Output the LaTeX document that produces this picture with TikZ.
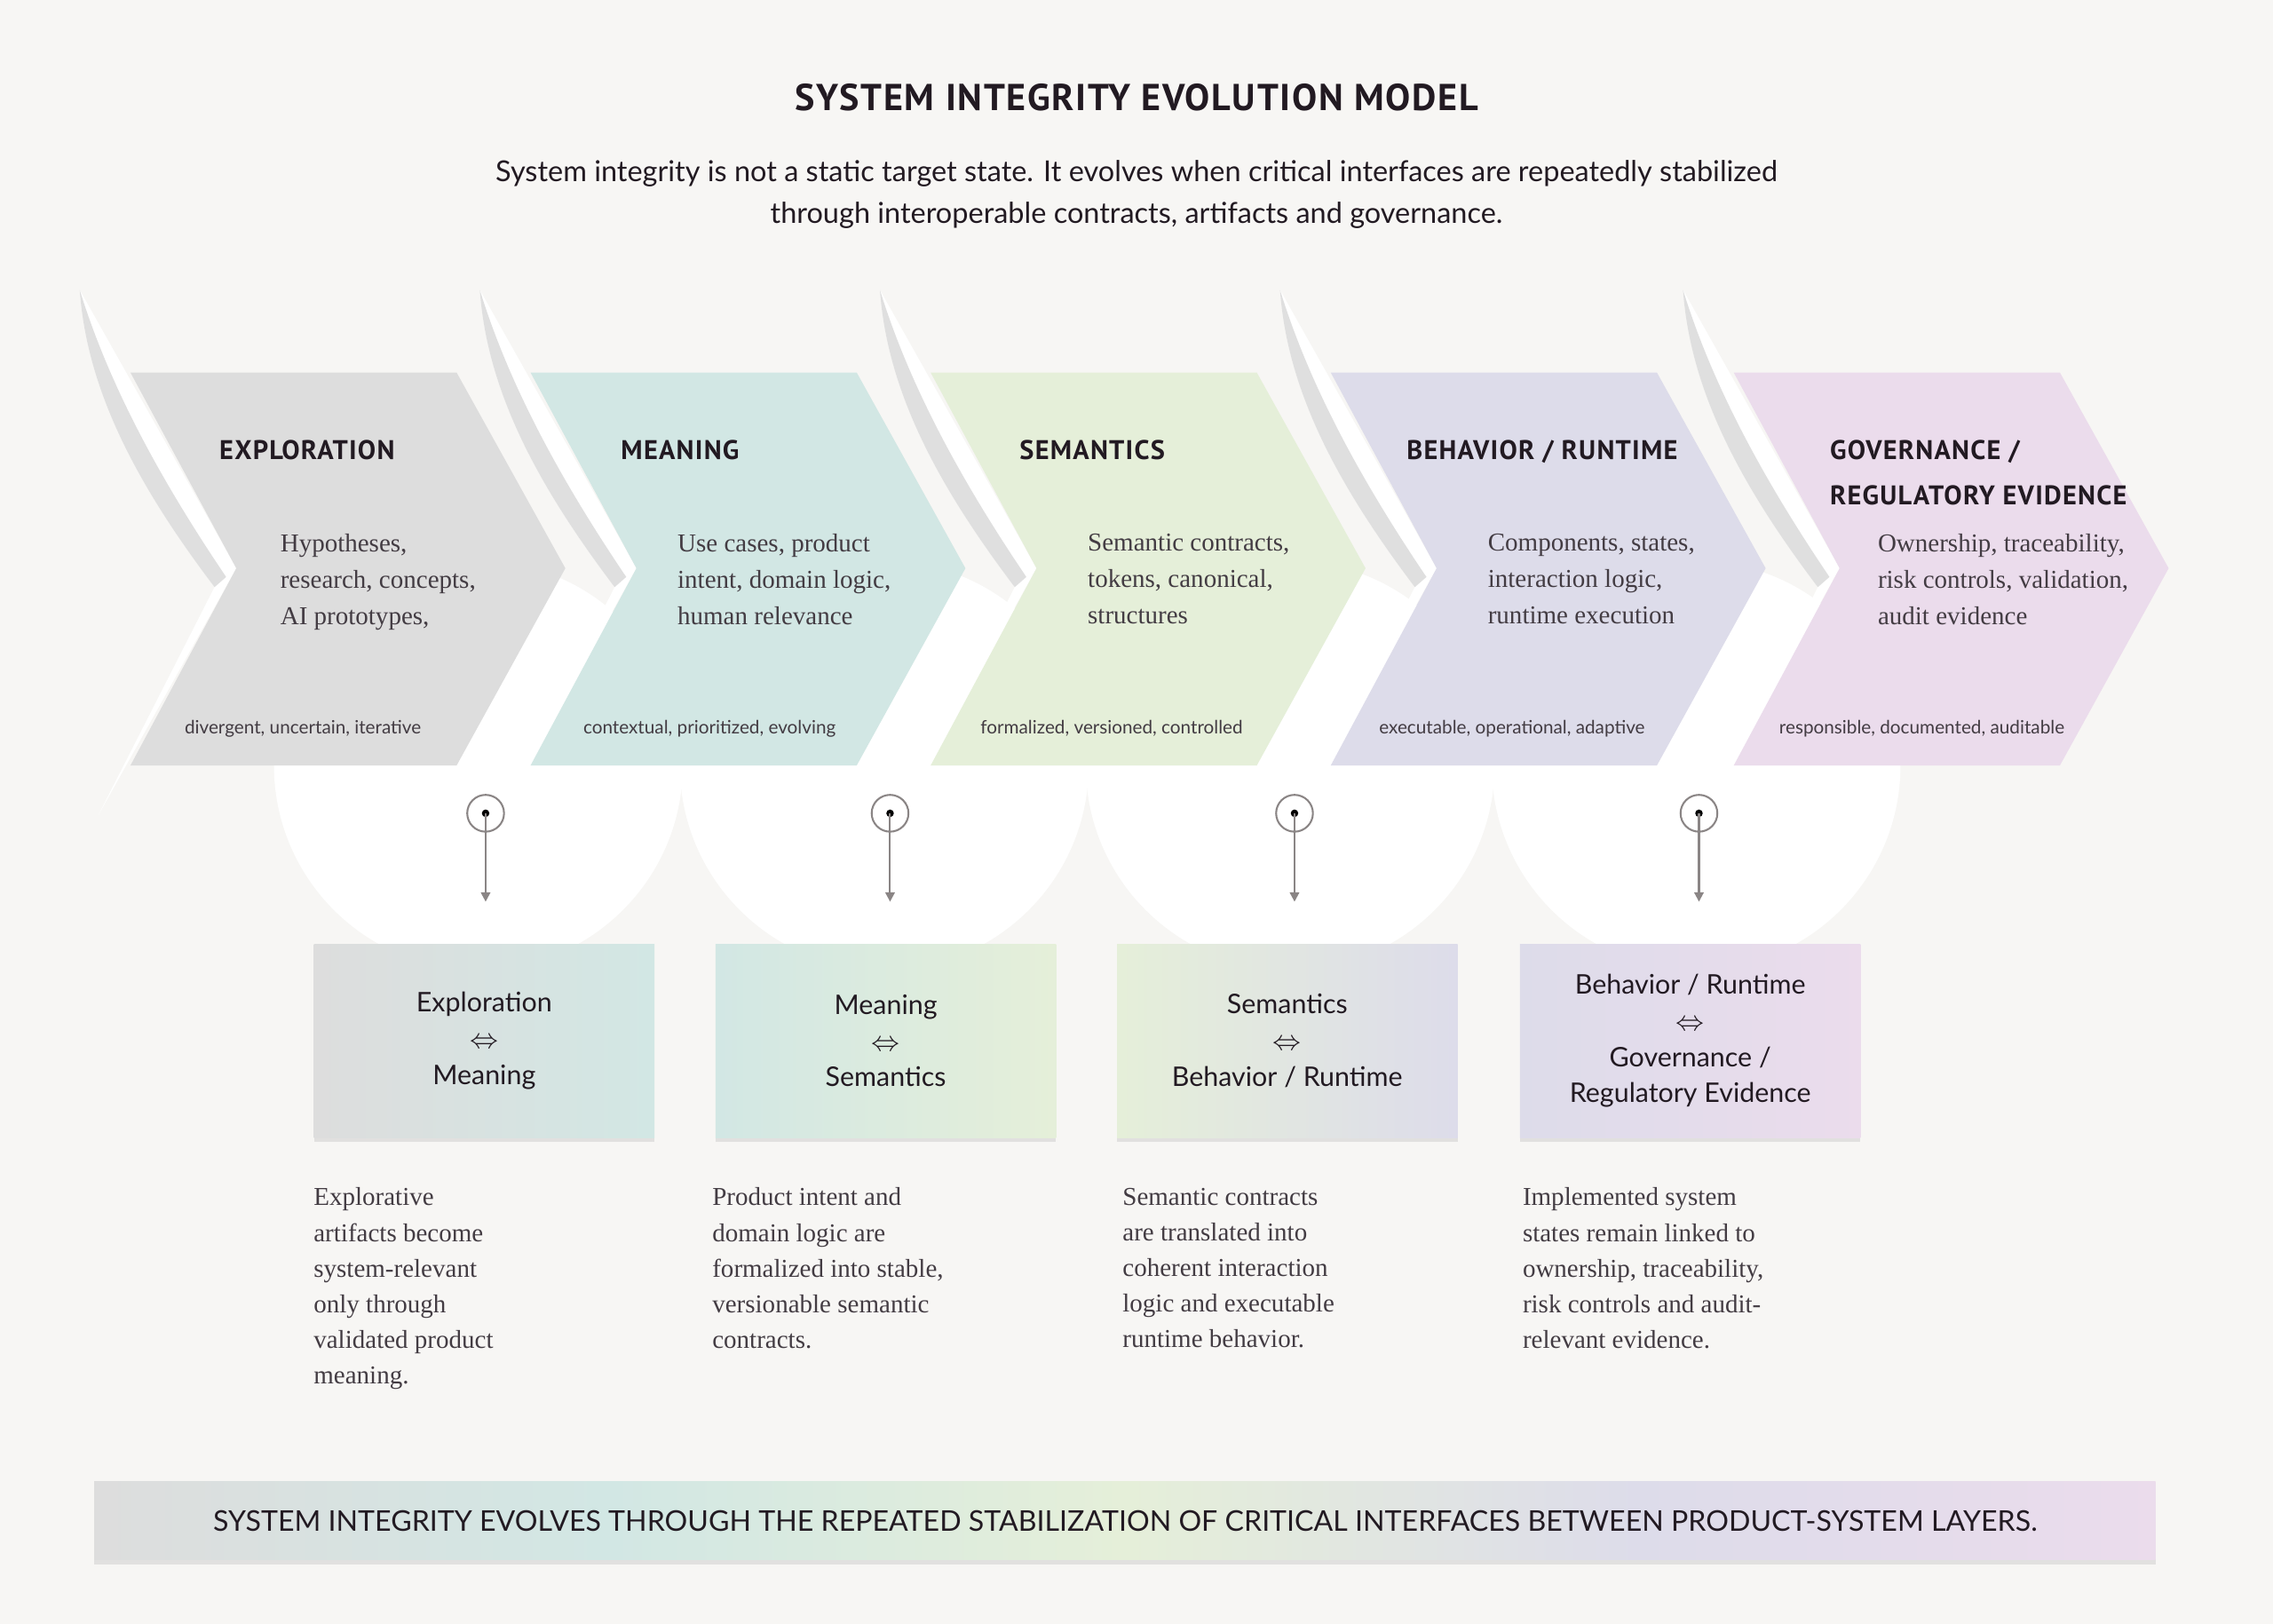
\documentclass[tikz,border=0pt]{standalone}
\usepackage{fontspec}
\setmainfont{Liberation Serif}
\setsansfont{Lato}
\newfontfamily\headfont[LetterSpace=4]{PT Sans}
\usetikzlibrary{positioning,shadows,arrows.meta}

\definecolor{paper}{HTML}{F7F6F4}
\definecolor{cGray}{HTML}{DDDDDD}
\definecolor{cTeal}{HTML}{D2E7E4}
\definecolor{cGreen}{HTML}{E5EFD9}
\definecolor{cLav}{HTML}{DDDCEA}
\definecolor{cPink}{HTML}{EBDCEC}
\definecolor{ink}{HTML}{221A22}
\definecolor{pin}{HTML}{8A8585}
\pgfdeclarehorizontalshading{layers}{100bp}{color(0bp)=(cGray); color(25bp)=(cGray);
  color(37.5bp)=(cTeal); color(50bp)=(cGreen); color(62.5bp)=(cLav); color(75bp)=(cPink); color(100bp)=(cPink)}

% one stage arrow with its paper wing
\newcommand\stagearrow[2]{%
  \fill[white] (#1-35,200) -- (#1+73,392) -- (#1-22,562) -- (#1+58,405)
    .. controls (#1+5,335) and (#1-30,270) .. cycle;
  \fill[black!35,opacity=.35] (#1-35,200) .. controls (#1-30,270) and (#1+5,335) .. (#1+58,405)
    -- (#1+66,398) .. controls (#1+20,330) and (#1-15,265) .. cycle;
  \fill[#2] (#1,257) -- (#1+225,257) -- (#1+300,392) -- (#1+225,528) -- (#1,528) -- (#1+73,392) -- cycle;
}

\begin{document}
\begin{tikzpicture}[x=0.4726pt,y=-0.4726pt,
  head/.style={anchor=north west, font=\headfont\bfseries\fontsize{8.8}{15}\selectfont, text=ink, align=left, inner sep=0},
  body/.style={anchor=north west, font=\fontsize{8.4}{11.8}\selectfont, text=ink!85, align=left, inner sep=0},
  tag/.style={anchor=base west, font=\sffamily\fontsize{6}{7}\selectfont, text=ink!85, inner sep=0},
  pinhead/.style={circle, draw=pin, line width=0.6pt, minimum size=12pt, inner sep=0},
  link/.style={draw=pin, line width=0.6pt, -{Triangle[length=3pt,width=3pt]}},
  pair/.style={minimum width=111pt, minimum height=63pt, align=center, text=ink,
    font=\sffamily\fontsize{8.8}{11.8}\selectfont, drop shadow={opacity=.18, shadow xshift=0pt, shadow yshift=-1.5pt}},
  note/.style={anchor=north west, font=\fontsize{8.4}{11.6}\selectfont, text=ink!85, align=left, inner sep=0}]
\fill[paper] (0,0) rectangle (1568,1120);
\useasboundingbox (0,0) rectangle (1568,1120);

\node[font=\headfont\bfseries\fontsize{12.2}{16}\selectfont, text=ink] (title) at (784,67) {SYSTEM INTEGRITY EVOLUTION MODEL};
\node[font=\sffamily\fontsize{9.4}{13.7}\selectfont, text=ink, align=center] (lead) at (784,134)
  {System integrity is not a static target state. It evolves when critical interfaces are repeatedly stabilized\\
   through interoperable contracts, artifacts and governance.};

% paper cut-outs
\foreach \x in {330,610,890,1170} \fill[white] (\x,528) circle (141);
\stagearrow{90}{cGray}
\stagearrow{366}{cTeal}
\stagearrow{642}{cGreen}
\stagearrow{918}{cLav}
\stagearrow{1196}{cPink}

\node[head] (h-expl) at (151,303) {EXPLORATION};
\node[head] (h-mean) at (428,303) {MEANING};
\node[head] (h-sem) at (703,303) {SEMANTICS};
\node[head] (h-beh) at (970,303) {BEHAVIOR / RUNTIME};
\node[head] (h-gov) at (1262,303) {GOVERNANCE /\\REGULATORY EVIDENCE};

\node[body] (b-expl) at (193,368) {Hypotheses,\\research, concepts,\\AI prototypes,};
\node[body] (b-mean) at (467,368) {Use cases, product\\intent, domain logic,\\human relevance};
\node[body] (b-sem) at (750,368) {Semantic contracts,\\tokens, canonical,\\structures};
\node[body] (b-beh) at (1026,368) {Components, states,\\interaction logic,\\runtime execution};
\node[body] (b-gov) at (1295,368) {Ownership, traceability,\\risk controls, validation,\\audit evidence};

\node[tag] (t-expl) at (127,506) {divergent, uncertain, iterative};
\node[tag] (t-mean) at (402,506) {contextual, prioritized, evolving};
\node[tag] (t-sem) at (676,506) {formalized, versioned, controlled};
\node[tag] (t-beh) at (951,506) {executable, operational, adaptive};
\node[tag] (t-gov) at (1227,506) {responsible, documented, auditable};

% interface pins
\node[pinhead] (p1) at (335,561) {}; \fill[pin] (p1) circle (2.6);
\node[pinhead] (p2) at (614,561) {}; \fill[pin] (p2) circle (2.6);
\node[pinhead] (p3) at (893,561) {}; \fill[pin] (p3) circle (2.6);
\node[pinhead] (p4) at (1172,561) {}; \fill[pin] (p4) circle (2.6);
\coordinate (e1) at (335,622); \coordinate (e2) at (614,622);
\coordinate (e3) at (893,622); \coordinate (e4) at (1172,622);
\draw[link] (p1.center) -- (e1);
\draw[link] (p2.center) -- (e2);
\draw[link] (p3.center) -- (e3);
\draw[link] (p4.center) -- (e4);

\node[pair, left color=cGray, right color=cTeal] (i1) at (334,718) {Exploration\\$\Leftrightarrow$\\Meaning};
\node[pair, left color=cTeal, right color=cGreen] (i2) at (611,718) {Meaning\\$\Leftrightarrow$\\Semantics};
\node[pair, left color=cGreen, right color=cLav] (i3) at (888,718) {Semantics\\$\Leftrightarrow$\\Behavior / Runtime};
\node[pair, left color=cLav, right color=cPink] (i4) at (1166,718) {Behavior / Runtime\\$\Leftrightarrow$\\Governance /\\Regulatory Evidence};

\node[note] (n1) at (216,819) {Explorative\\artifacts become\\system-relevant\\only through\\validated product\\meaning.};
\node[note] (n2) at (491,819) {Product intent and\\domain logic are\\formalized into stable,\\versionable semantic\\contracts.};
\node[note] (n3) at (774,819) {Semantic contracts\\are translated into\\coherent interaction\\logic and executable\\runtime behavior.};
\node[note] (n4) at (1050,819) {Implemented system\\states remain linked to\\ownership, traceability,\\risk controls and audit-\\relevant evidence.};

\node[shading=layers, minimum width=672pt, minimum height=25.5pt, text=ink,
  font=\sffamily\fontsize{9.3}{10}\selectfont, drop shadow={opacity=.18, shadow xshift=0pt, shadow yshift=-1.5pt}]
  (footer) at (776,1049) {SYSTEM INTEGRITY EVOLVES THROUGH THE REPEATED STABILIZATION OF CRITICAL INTERFACES BETWEEN PRODUCT-SYSTEM LAYERS.};
\end{tikzpicture}
\end{document}
